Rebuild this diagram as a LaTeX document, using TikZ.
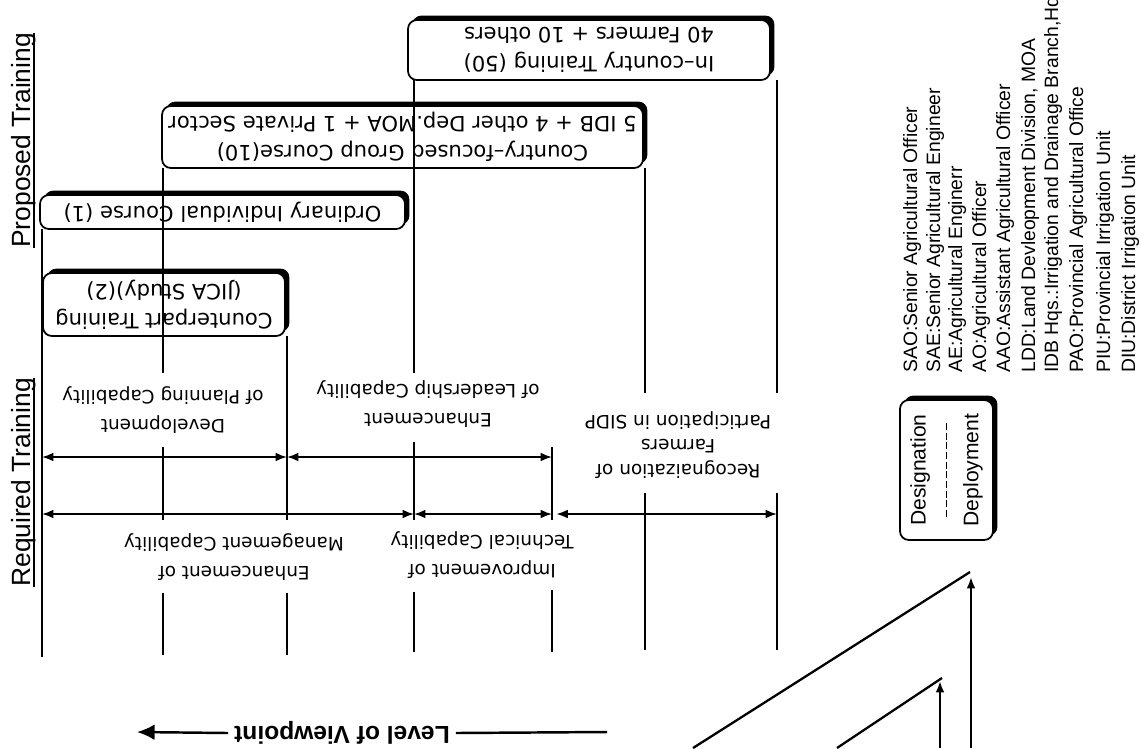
\documentclass[tikz,border=0pt]{standalone}
\usepackage{fontspec}
\usepackage{tikz}
\usetikzlibrary{shadows,arrows.meta}
\setmainfont{Liberation Sans}
\newfontfamily\dvfont{DejaVu Sans}
\definecolor{black}{RGB}{0,0,0}

\begin{document}
\begin{tikzpicture}[x=0.02cm,y=-0.02cm,
	course/.style={draw=black,line width=1pt,rounded corners=5pt,fill=white,inner sep=0pt,align=center,
		font=\dvfont\fontsize{12}{16.5}\selectfont,
		drop shadow={shadow xshift=2.5pt,shadow yshift=2.5pt,fill=black,opacity=1}},
	goal/.style={rotate=180,align=center,font=\dvfont\fontsize{10.5}{16.5}\selectfont},
	abbr/.style={rotate=90,anchor=base west,inner sep=0pt,font=\fontsize{11}{13}\selectfont},
	title/.style={rotate=90,anchor=base west,inner sep=0pt,font=\fontsize{15}{18}\selectfont},
	spanarrow/.style={<->,>={Latex[length=6.5pt,width=5pt]},line width=1pt},
	risearrow/.style={->,>={Latex[length=6.5pt,width=5pt]},line width=1.2pt}]
	\useasboundingbox (0,0) rectangle (1142,748);

	\node[course,rotate=180,minimum width=7.24cm,minimum height=1.2cm] (inc) at (589,50) {In–country Training (50)\\40 Farmers + 10 others};
	\node[course,rotate=180,minimum width=9.62cm,minimum height=1.24cm] (cfg) at (402.5,137) {Country–focused Group Course(10)\\5 IDB + 4 other Dep.MOA + 1 Private Sector};
	\node[course,rotate=180,minimum width=7.3cm,minimum height=0.68cm] (oic) at (222.5,212) {Ordinary Individual Course (1)};
	\node[course,rotate=180,minimum width=4.84cm,minimum height=1.26cm] (cpt) at (164,304.5) {Counterpart Training\\(JICA Study)(2)};

	\foreach \x/\a/\b in {42/229/657,163/168/373,163/447/520,163/593/655,287/336/520,287/593/655,414/80/373,414/442/520,414/592/652,552/447/520,552/590/652,645/168/393,645/493/650,777/80/393,777/493/650}
		\draw[line width=1.1pt] (\x,\a) -- (\x,\b);

	\foreach \n/\x in {0/42,1/163,2/287,3/414,4/552,5/645,6/777} {
		\coordinate (a\n) at (\x,457);
		\coordinate (b\n) at (\x,514);
	}
	\foreach \p/\q in {a0/a2,a2/a4,b0/b3,b3/b4}
		\draw[spanarrow] (\p) -- (\q);
	\draw[spanarrow,shorten <=2.5pt] (b4) -- (b6);

	\node[goal] (plan) at (163,410) {Development\\of Planning Capability};
	\node[goal] (lead) at (428,404) {Enhancement\\of Leadership Capability};
	\node[goal] (mgmt) at (234,557) {Enhancement of\\Management Capability};
	\node[goal] (tech) at (482,555) {Improvement of\\Technical Capability};
	\node[goal,font=\dvfont\fontsize{10.5}{14}\selectfont] (farm) at (678,445) {Recognaization of\\Farmers\\Participation in SIDP};

	\node[title] (req) at (31,587) {Required Training};
	\node[title] (prop) at (31,248) {Proposed Training};
	\draw[line width=0.8pt] ([xshift=1.8pt]req.base west) -- ([xshift=1.8pt]req.base east);
	\draw[line width=0.8pt] ([xshift=1.8pt]prop.base west) -- ([xshift=1.8pt]prop.base east);

	\node[rotate=180,font=\bfseries\fontsize{14}{16}\selectfont] (lov) at (342,733) {Level of Viewpoint};
	\coordinate (lovr) at (607,732);
	\coordinate (lovl) at (137,732);
	\draw[line width=1.4pt] (lovr) -- (lov.west);
	\draw[line width=1.4pt,-{Latex[length=10pt,width=9pt]}] (lov.east) -- (lovl);

	\node[course,rotate=90,minimum width=2.8cm,minimum height=1.86cm,font=\fontsize{12}{30}\selectfont] (des) at (946.5,470) {Designation\\Deployment};
	\draw[line width=0.8pt,dash pattern=on 4pt off 1.5pt] ([yshift=0.94cm]des.center) -- ([yshift=-0.94cm]des.center);

	\coordinate (d1a) at (693,748);
	\coordinate (d1b) at (970,572);
	\coordinate (d2a) at (837,748);
	\coordinate (d2b) at (942,678);
	\coordinate (u1a) at (971,748);
	\coordinate (u1b) at (971,577);
	\coordinate (u2a) at (940,748);
	\coordinate (u2b) at (940,681);
	\draw[line width=1.3pt] (d1a) -- (d1b);
	\draw[line width=1.3pt] (d2a) -- (d2b);
	\draw[risearrow] (u1a) -- (u1b);
	\draw[risearrow] (u2a) -- (u2b);

	\foreach \x/\t [count=\i] in {917/{SAO:Senior Agricultural Officer},940/{SAE:Senior Agricultural Engineer},962/{AE:Agricultural Enginerr},986/{AO:Agricultural Officer},1010/{AAO:Assistant Agricultural Officer},1035/{LDD:Land Devleopment Division, MOA},1058/{IDB Hqs.:Irrigation and Drainage Branch,Hq},1083/{PAO:Provincial Agricultural Office},1110/{PIU:Provincial Irrigation Unit},1135/{DIU:District Irrigation Unit}}
		\node[abbr] (abbr\i) at (\x,373) {\t};
\end{tikzpicture}
\end{document}
